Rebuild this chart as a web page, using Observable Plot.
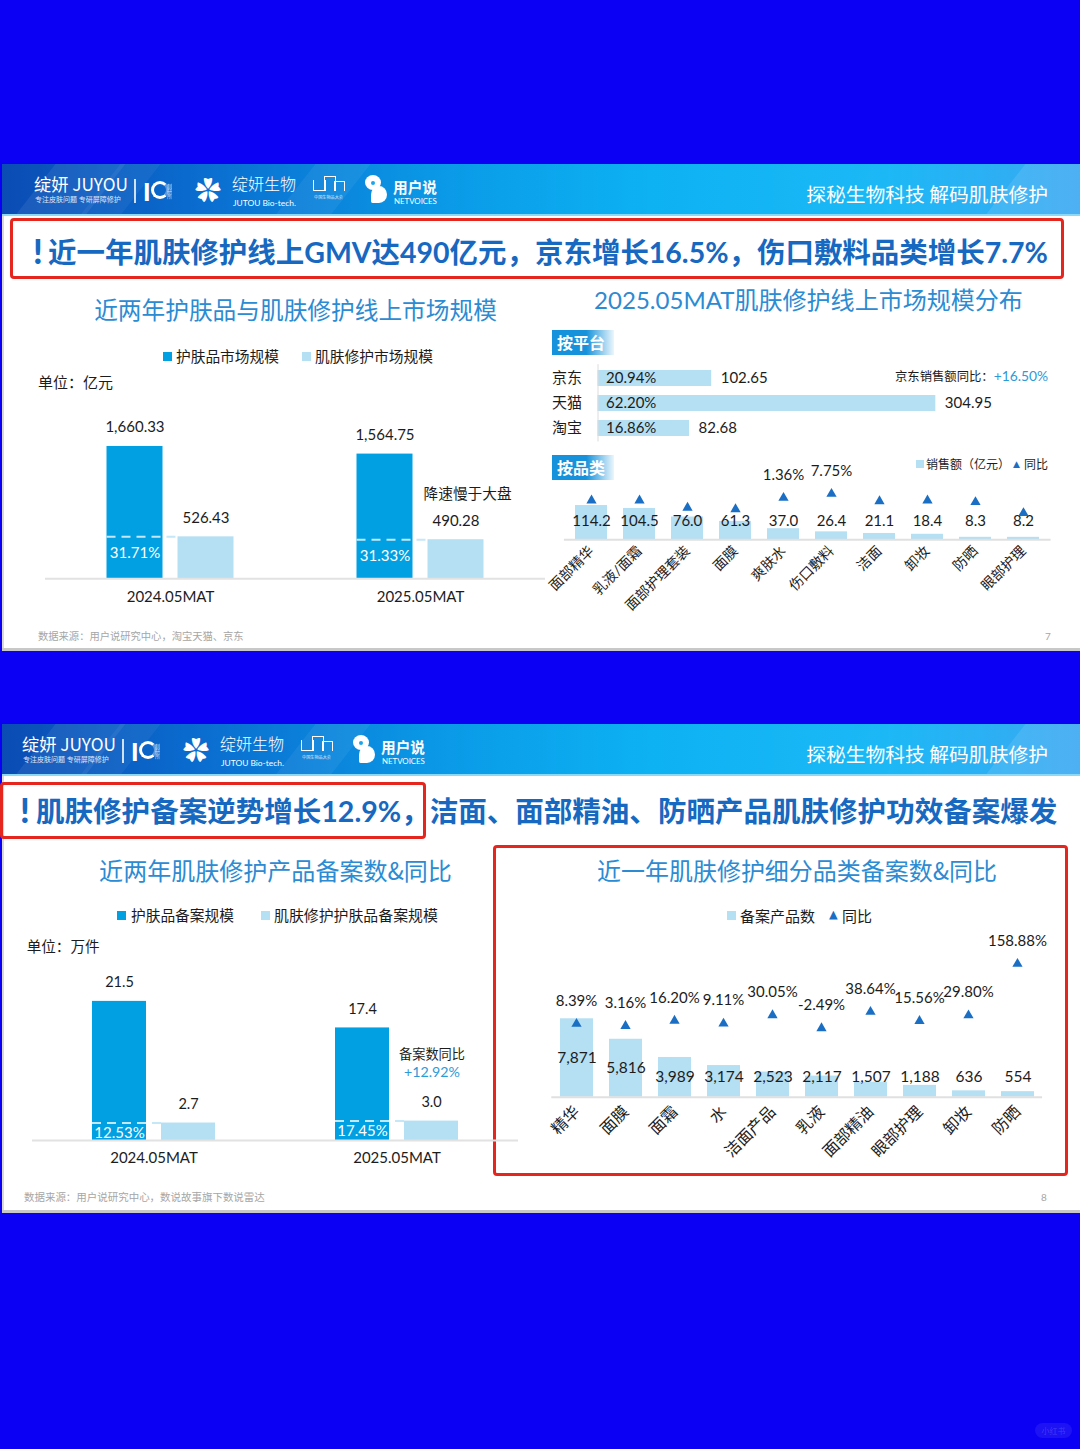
<!DOCTYPE html>
<html lang="zh">
<head>
<meta charset="utf-8">
<script src="https://cdn.jsdelivr.net/npm/d3@7"></script>
<script src="https://cdn.jsdelivr.net/npm/@observablehq/plot@0.6"></script>
<style>
html,body{margin:0;padding:0;}
body{width:1080px;height:1449px;background:#0b00f4;overflow:hidden;font-family:Lato,"Noto Sans CJK SC","Noto Sans",sans-serif;}
#page{position:relative;width:1080px;height:1449px;}
.slide{position:absolute;left:2px;width:1078px;background:#fff;border-left:2px solid #d9d9d9;box-sizing:border-box;box-shadow:0 3px 0 #c8c8c8;}
.hdr{position:absolute;overflow:hidden;background:linear-gradient(90deg,#0a4cb4 0%,#0a6ccf 18%,#0a98e6 40%,#0db2f3 60%,#1cb8f6 82%,#3aa8f2 100%);border-bottom:2px solid #8ad9f8;box-sizing:border-box;}
.stripe{position:absolute;top:-10px;height:80px;transform:skewX(-38deg);}
.t{position:absolute;white-space:nowrap;line-height:1;}
.redbox{position:absolute;border:3px solid #e4261f;border-radius:4px;box-sizing:border-box;}
.tag{position:absolute;color:#fff;font-weight:bold;font-size:16px;line-height:25px;padding-left:5px;box-sizing:border-box;background:linear-gradient(90deg,#1592db 0%,#1592db 55%,rgba(21,146,219,0.08) 100%);font-family:"Noto Sans CJK SC",sans-serif;}
.plot{position:absolute;}
.sq{position:absolute;width:9px;height:9px;}
</style>
</head>
<body>
<div id="page"></div>
<script>
// ---------------- data ----------------
const years = ["2024.05MAT", "2025.05MAT"];
const skincareMarket = [1660.33, 1564.75];
const repairMarket = [526.43, 490.28];
const repairMarketShare = [31.71, 31.33];

const platforms = ["京东", "天猫", "淘宝"];
const platformSales = [102.65, 304.95, 82.68];
const platformShare = [20.94, 62.20, 16.86];

const salesCategories = ["面部精华", "乳液/面霜", "面部护理套装", "面膜", "爽肤水", "伤口敷料", "洁面", "卸妆", "防晒", "眼部护理"];
const categorySales = [114.2, 104.5, 76.0, 61.3, 37.0, 26.4, 21.1, 18.4, 8.3, 8.2];
const categorySalesYoY = [-2.9, -2.9, -14.5, -16.8, 1.36, 7.75, -4.0, -2.9, -5.4, -23.0];

const filingSkincare = [21.5, 17.4];
const filingRepair = [2.7, 3.0];
const filingShare = [12.53, 17.45];

const filingCategories = ["精华", "面膜", "面霜", "水", "洁面产品", "乳液", "面部精油", "眼部护理", "卸妆", "防晒"];
const filingCounts = [7871, 5816, 3989, 3174, 2523, 2117, 1507, 1188, 636, 554];
const filingYoY = [8.39, 3.16, 16.20, 9.11, 30.05, -2.49, 38.64, 15.56, 29.80, 158.88];

// ---------------- helpers ----------------
const page = document.getElementById("page");
const fontStack = "Lato, 'Noto Sans CJK SC', sans-serif";
const DARK = "#00a0e3", LIGHT = "#b5dff3", TRI = "#1a6fc4", INK = "#1c1c1c";
const TITLE = "#2b8bd3", HEAD = "#1768c0", ACCENT = "#2d9ad8";

function addText(txt, x, y, o = {}) {
  const d = document.createElement("div");
  d.className = "t";
  if (o.html) d.innerHTML = txt; else d.textContent = txt;
  const a = o.anchor || "start";
  const size = o.size || 15;
  Object.assign(d.style, {
    left: x + "px", top: y + "px", fontSize: size + "px",
    color: o.color || INK, fontWeight: o.weight || "normal",
    transform: `translate(${a === "start" ? "0" : a === "middle" ? "-50%" : "-100%"},-50%)`
  });
  if (o.font) d.style.fontFamily = o.font;
  if (o.opacity) d.style.opacity = o.opacity;
  (o.parent || page).appendChild(d);
  if (o.fit) {
    const w = d.getBoundingClientRect().width;
    d.style.fontSize = (size * o.fit / w) + "px";
  }
  return d;
}
function box(cls, l, t, w, h, style = {}) {
  const d = document.createElement("div");
  d.className = cls;
  Object.assign(d.style, {left: l + "px", top: t + "px", width: w + "px", height: h + "px"}, style);
  page.appendChild(d);
  return d;
}
function mount(svg, left, top) {
  const wrap = document.createElement("div");
  wrap.className = "plot";
  wrap.style.left = left + "px";
  wrap.style.top = top + "px";
  wrap.appendChild(svg);
  page.appendChild(wrap);
}
const baseStyle = (fs) => ({background: "transparent", overflow: "visible", fontFamily: fontStack, fontSize: fs + "px", color: INK});

function header(top, dx) {
  const h = box("hdr", 2, top, 1078, 52);
  [[30, 70, 0.07], [95, 40, 0.05], [290, 55, 0.06], [1000, 110, 0.1]].forEach(([l, w, a]) => {
    const s = document.createElement("div");
    s.className = "stripe";
    Object.assign(s.style, {left: l + "px", width: w + "px", background: `rgba(255,255,255,${a})`});
    h.appendChild(s);
  });
  const W = "#ffffff";
  addText("绽妍 JUYOU", 34 + dx, top + 20, {size: 16, color: W, fit: 94, font: "'Noto Sans CJK SC', sans-serif"});
  addText("专注皮肤问题 专研屏障修护", 35 + dx, top + 36, {size: 5.5, color: W, fit: 86, opacity: 0.85});
  box("", 134 + dx, top + 15, 1.5, 24, {position: "absolute", background: "rgba(255,255,255,0.8)"});
  addText("I", 143 + dx, top + 27, {size: 25, color: W, weight: 900});
  box("", 151 + dx, top + 17, 12, 12, {position: "absolute", border: "3.5px solid #fff", borderRadius: "50%", borderRightColor: "rgba(255,255,255,0.35)"});
  addText("制研所", 166 + dx, top + 27, {size: 5, color: W, opacity: 0.8}).style.writingMode = "vertical-rl";
  addText("✿", 195 + dx, top + 26, {size: 26, color: W});
  addText("绽妍生物", 232 + dx, top + 19, {size: 18, color: W, fit: 64, weight: 300, font: "'Noto Sans CJK SC', sans-serif"});
  addText("JUTOU Bio-tech.", 233 + dx, top + 39, {size: 7, color: W, fit: 63});
  box("", 313 + dx, top + 16, 11, 10, {position: "absolute", border: "1.5px solid #fff", borderTop: "none"});
  box("", 324 + dx, top + 12, 10, 14, {position: "absolute", border: "1.5px solid #fff", borderBottom: "none"});
  box("", 334 + dx, top + 17, 9, 9, {position: "absolute", border: "1.5px solid #fff", borderBottom: "none"});
  addText("中国生物品大会", 314 + dx, top + 34, {size: 4, color: W, fit: 29, opacity: 0.8});
  box("", 365 + dx, top + 11, 16, 15, {position: "absolute", background: "#fff", borderRadius: "50%"});
  box("", 371 + dx, top + 22, 16, 17, {position: "absolute", background: "#fff", borderRadius: "50% 50% 50% 10%"});
  box("", 371 + dx, top + 17, 4, 4, {position: "absolute", background: "#1aa6ee", borderRadius: "50%"});
  addText("用户说", 393 + dx, top + 23, {size: 15, color: W, weight: "bold", fit: 44, font: "'Noto Sans CJK SC', sans-serif"});
  addText("NETVOICES", 394 + dx, top + 38, {size: 6, color: W, fit: 43});
  addText("探秘生物科技 解码肌肤修护", 1048, top + 30, {size: 20, color: W, anchor: "end", fit: 242, font: "'Noto Sans CJK SC', sans-serif"});
}

function legendRow(items, y, size) {
  items.forEach(it => {
    if (it.kind === "sq") box("sq", it.x, y - it.s / 2, it.s, it.s, {background: it.color});
    else if (it.kind === "tri") addText("▲", it.x, y, {size: size * 0.75, color: TRI, font: "'DejaVu Sans', sans-serif"});
    else addText(it.text, it.x, y, {size, fit: it.fit, font: "'Noto Sans CJK SC', sans-serif"});
  });
}

function pairChart({big, small, share, fmt, width, height, marginBottom, pxPerUnit, barW, gap, shareDy, tickPadding, labelSize}) {
  const rows = years.map((y, i) => ({year: y, big: big[i], small: small[i], share: share[i]}));
  const bw = width / 2;
  const darkL = bw / 2 - gap / 2 - barW, darkR = bw / 2 + gap / 2;
  const lightL = bw / 2 + gap / 2, lightR = bw / 2 - gap / 2 - barW;
  const off = gap / 2 + barW / 2;
  const inner = height - marginBottom;
  return Plot.plot({
    width, height, marginTop: 0, marginBottom, marginLeft: 0, marginRight: 0,
    style: baseStyle(15),
    x: {domain: years, padding: 0, tickSize: 0, tickPadding, label: null},
    y: {domain: [0, inner / pxPerUnit], axis: null},
    marks: [
      Plot.barY(rows, {x: "year", y: "big", fill: DARK, insetLeft: darkL, insetRight: darkR}),
      Plot.barY(rows, {x: "year", y: "small", fill: LIGHT, insetLeft: lightL, insetRight: lightR}),
      Plot.tickY(rows, {x: "year", y: "small", stroke: "#c4e8f8", strokeWidth: 2, strokeDasharray: "9,6", insetLeft: darkL, insetRight: bw / 2 - gap / 2}),
      Plot.text(rows, {x: "year", y: "big", text: d => fmt(d.big), dx: -off, dy: -19, fontSize: labelSize}),
      Plot.text(rows, {x: "year", y: "small", text: d => fmt(d.small), dx: off, dy: -19, fontSize: labelSize}),
      Plot.text(rows, {x: "year", y: "small", text: d => d.share.toFixed(2) + "%", dx: -off, dy: shareDy, fill: "white", fontSize: 15}),
      Plot.ruleY([0], {stroke: "#e2e2e2", strokeWidth: 2})
    ]
  });
}

// ---------------- slides ----------------
box("slide", 2, 164, 1078, 484);
box("slide", 2, 724, 1078, 486);
header(164, 0);
header(724, -12);

// slide 1 headline
box("redbox", 10, 218, 1054, 61);
addText("!", 33, 251, {size: 34, color: HEAD, weight: 900});
addText("近一年肌肤修护线上GMV达490亿元，京东增长16.5%，伤口敷料品类增长7.7%", 48, 252, {size: 28, color: HEAD, weight: "bold", fit: 1000});

// slide 1 section titles
addText("近两年护肤品与肌肤修护线上市场规模", 295.5, 310, {size: 23, color: TITLE, anchor: "middle", fit: 403, font: "'Noto Sans CJK SC', sans-serif"});
addText("2025.05MAT肌肤修护线上市场规模分布", 808.5, 300, {size: 23, color: TITLE, anchor: "middle", fit: 429});

// slide 1 left chart
legendRow([
  {kind: "sq", x: 163, s: 9, color: DARK}, {text: "护肤品市场规模", x: 176, fit: 103},
  {kind: "sq", x: 302, s: 9, color: LIGHT}, {text: "肌肤修护市场规模", x: 315, fit: 118}
], 356, 15);
addText("单位：亿元", 38, 381, {size: 15, fit: 75, font: "'Noto Sans CJK SC', sans-serif"});
mount(pairChart({big: skincareMarket, small: repairMarket, share: repairMarketShare, fmt: d3.format(",.2f"),
  width: 500, height: 220, marginBottom: 41.7, pxPerUnit: 0.0797, barW: 56, gap: 15, shareDy: 16, tickPadding: 13, labelSize: 15}), 45, 400);
addText("降速慢于大盘", 423.6, 493, {size: 15, fit: 88, font: "'Noto Sans CJK SC', sans-serif"});

// slide 1 right: platform
box("tag", 552, 330, 62, 25).textContent = "按平台";
addText('京东销售额同比：<span style="color:' + ACCENT + ';font-size:1.12em">+16.50%</span>', 1048, 375.5, {html: true, size: 13, anchor: "end", fit: 153});
const platformRows = platforms.map((p, i) => ({platform: p, sales: platformSales[i], share: platformShare[i]}));
mount(Plot.plot({
  width: 520, height: 80, marginTop: 2.2, marginBottom: 0.5, marginLeft: 57.5, marginRight: 124.7,
  style: baseStyle(15),
  x: {domain: [0, d3.max(platformSales)], axis: null},
  y: {domain: platforms, paddingInner: 0.37, paddingOuter: 0.2, tickSize: 0, tickPadding: 16, label: null},
  marks: [
    Plot.barX(platformRows, {x: "sales", y: "platform", fill: LIGHT}),
    Plot.text(platformRows, {x: 0, y: "platform", text: d => d.share.toFixed(2) + "%", textAnchor: "start", dx: 8, fontSize: 15}),
    Plot.text(platformRows, {x: "sales", y: "platform", text: d => d.sales.toFixed(2), textAnchor: "start", dx: 9, fontSize: 15}),
    Plot.ruleX([0], {stroke: "#dcdcdc"})
  ]
}), 540, 362);

// slide 1 right: category
box("tag", 552, 455, 62, 25).textContent = "按品类";
legendRow([
  {kind: "sq", x: 916, s: 8, color: LIGHT}, {text: "销售额（亿元）", x: 926, fit: 84},
  {kind: "tri", x: 1013}, {text: "同比", x: 1024, fit: 24}
], 464, 12);
const catRows = salesCategories.map((c, i) => ({cat: c, sales: categorySales[i], yoy: categorySalesYoY[i]}));
const catX = {domain: salesCategories, paddingInner: 0.34, paddingOuter: 0.17};
const cDims = {width: 550.6, height: 150, marginTop: 0, marginBottom: 75.7, marginLeft: 43.9, marginRight: 20};
mount(Plot.plot({
  ...cDims, style: baseStyle(14),
  x: {...catX, tickSize: 0, tickPadding: 9, tickRotate: -45, label: null},
  y: {domain: [0, 74.3 / 0.30], axis: null},
  marks: [
    Plot.barY(catRows, {x: "cat", y: "sales", fill: LIGHT}),
    Plot.text(catRows, {x: "cat", y: 0, dy: -19, text: d => d.sales.toFixed(1), fontSize: 15}),
    Plot.ruleY([0], {stroke: "#e0e0e0", strokeWidth: 2})
  ]
}), 520, 465);
mount(Plot.plot({
  ...cDims, style: baseStyle(14),
  x: {...catX, axis: null},
  y: {domain: [-65.7, 53.0], axis: null},
  marks: [
    Plot.dot(catRows, {x: "cat", y: "yoy", symbol: "triangle", r: 3.8, fill: TRI}),
    Plot.text(catRows.filter(d => d.yoy > 0), {x: "cat", y: "yoy", dy: -23, text: d => d.yoy.toFixed(2) + "%", fontSize: 15})
  ]
}), 520, 465);

addText("数据来源：用户说研究中心，淘宝天猫、京东", 38, 636, {size: 9.5, color: "#a6a6a6", fit: 206});
addText("7", 1048, 636, {size: 10, color: "#a6a6a6", anchor: "middle"});

// ---------------- slide 2 ----------------
box("redbox", 0, 782, 426, 57);
box("redbox", 493, 845, 575, 331);
addText("!", 20, 810, {size: 34, color: HEAD, weight: 900});
addText("肌肤修护备案逆势增长12.9%，洁面、面部精油、防晒产品肌肤修护功效备案爆发", 36, 811, {size: 28, color: HEAD, weight: "bold", fit: 1022});

addText("近两年肌肤修护产品备案数&同比", 275.5, 870, {size: 23, color: TITLE, anchor: "middle", fit: 353, font: "'Noto Sans CJK SC', sans-serif"});
addText("近一年肌肤修护细分品类备案数&同比", 797, 870, {size: 23, color: TITLE, anchor: "middle", fit: 400, font: "'Noto Sans CJK SC', sans-serif"});

legendRow([
  {kind: "sq", x: 117, s: 9, color: DARK}, {text: "护肤品备案规模", x: 131, fit: 103},
  {kind: "sq", x: 261, s: 9, color: LIGHT}, {text: "肌肤修护护肤品备案规模", x: 274, fit: 164}
], 915, 15);
addText("单位：万件", 26.7, 946, {size: 15, fit: 73, font: "'Noto Sans CJK SC', sans-serif"});
mount(pairChart({big: filingSkincare, small: filingRepair, share: filingShare, fmt: d => d.toFixed(1),
  width: 486, height: 225, marginBottom: 45, pxPerUnit: 6.47, barW: 54, gap: 15, shareDy: 10, tickPadding: 12, labelSize: 14.5}), 31.5, 960);
addText("备案数同比", 432, 1054, {size: 14, anchor: "middle", fit: 66, font: "'Noto Sans CJK SC', sans-serif"});
addText("+12.92%", 432, 1072, {size: 14, anchor: "middle", fit: 56, color: ACCENT});

legendRow([
  {kind: "sq", x: 727, s: 9, color: LIGHT}, {text: "备案产品数", x: 740, fit: 75},
  {kind: "tri", x: 829}, {text: "同比", x: 842, fit: 30}
], 915, 15);
const filRows = filingCategories.map((c, i) => ({cat: c, count: filingCounts[i], yoy: filingYoY[i]}));
const filX = {domain: filingCategories, paddingInner: 0.334, paddingOuter: 0.167};
const eDims = {width: 562.1, height: 240, marginTop: 0, marginBottom: 73.3, marginLeft: 51.3, marginRight: 20};
mount(Plot.plot({
  ...eDims, style: baseStyle(16),
  x: {...filX, tickSize: 0, tickPadding: 12, tickRotate: -45, label: null},
  y: {domain: [0, 166.7 / 0.00996], axis: null},
  marks: [
    Plot.barY(filRows, {x: "cat", y: "count", fill: LIGHT}),
    Plot.text(filRows, {x: "cat", y: d => Math.max(d.count / 2, 2000), text: d => d3.format(",")(d.count), fontSize: 15.5}),
    Plot.ruleY([0], {stroke: "#e0e0e0", strokeWidth: 2})
  ]
}), 500, 930);
mount(Plot.plot({
  ...eDims, style: baseStyle(16),
  x: {...filX, axis: null},
  y: {domain: [-175.4, 242.4], axis: null},
  marks: [
    Plot.dot(filRows, {x: "cat", y: "yoy", symbol: "triangle", r: 3.8, fill: TRI}),
    Plot.text(filRows, {x: "cat", y: "yoy", dy: -23, text: d => d.yoy.toFixed(2) + "%", fontSize: 15})
  ]
}), 500, 930);

addText("数据来源：用户说研究中心，数说故事旗下数说雷达", 24, 1197, {size: 9.5, color: "#a6a6a6", fit: 241});
addText("8", 1044, 1197, {size: 10, color: "#a6a6a6", anchor: "middle"});

// watermark
box("", 1035, 1423, 37, 15, {position: "absolute", borderRadius: "8px", background: "rgba(255,255,255,0.07)"});
addText("小红书", 1053.5, 1430.5, {size: 8, color: "rgba(255,255,255,0.18)", anchor: "middle"});
</script>
</body>
</html>
